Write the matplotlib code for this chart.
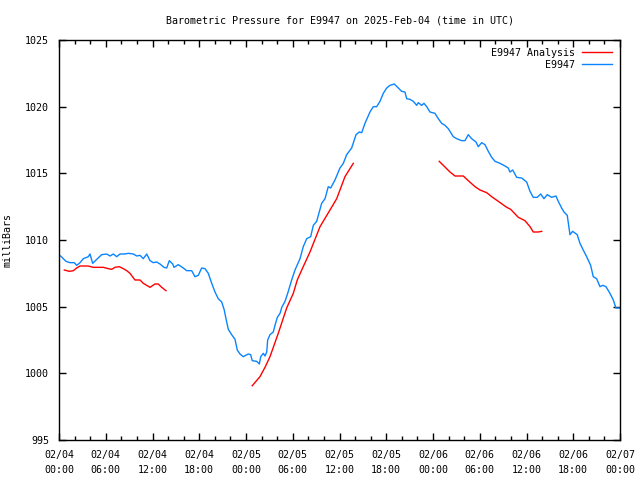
import matplotlib
matplotlib.use('Agg')
import matplotlib.pyplot as plt
import numpy as np

# hours since 2025-02-04 00:00 UTC, pressure in mb
obs_hours = [0.22, 0.55, 0.9, 1.41, 1.96, 2.27, 2.7, 3.12, 3.76, 3.98, 4.32, 4.84, 5.48, 6.12,
             6.55, 6.97, 7.4, 7.83, 8.47, 8.9, 9.54, 9.97, 10.4, 10.82, 11.26, 11.68, 12.1, 12.54,
             12.96, 13.48, 13.82, 14.16, 14.59, 14.76, 15.31, 15.95, 16.39, 17.03, 17.45, 17.88,
             18.31, 18.74, 19.16, 19.6, 20.02, 20.44, 20.88, 21.21, 21.43, 21.73, 22.16, 22.59,
             22.88, 23.23, 23.65, 24.29, 24.6, 24.8, 25.37, 25.71, 25.89, 26.22, 26.44, 26.66,
             26.78, 27.08, 27.5, 27.72, 28.02, 28.37, 28.59, 29.01, 29.35, 29.65, 29.86, 30.29,
             30.93, 31.35, 31.79, 32.3, 32.64, 33.07, 33.71, 34.14, 34.56, 34.87, 35.42, 36.06,
             36.49, 36.92, 37.56, 38.12, 38.54, 38.85, 39.27, 39.91, 40.34, 40.77, 41.2, 41.62,
             42.06, 42.48, 43.03, 43.54, 43.98, 44.4, 44.62, 45.05, 45.47, 45.91, 46.11, 46.55,
             46.84, 47.19, 47.61, 48.25, 48.68, 49.11, 49.54, 49.96, 50.6, 51.04, 51.68, 52.1,
             52.53, 52.96, 53.52, 53.81, 54.25, 54.67, 55.1, 55.53, 55.96, 56.6, 57.24, 57.66,
             57.88, 58.23, 58.74, 59.38, 60.02, 60.45, 60.87, 61.38, 61.82, 62.24, 62.67, 63.23,
             63.78, 64.08, 64.51, 64.81, 65.23, 65.58, 65.92, 66.51, 66.86, 67.28, 67.72, 68.23,
             68.57, 69.0, 69.43, 69.77, 70.2, 70.71, 71.14, 71.48, 71.91]
obs_mb = [1008.8, 1008.6, 1008.4, 1008.3, 1008.3, 1008.1, 1008.3, 1008.6, 1008.75, 1008.95,
          1008.25, 1008.55, 1008.9, 1008.95, 1008.8, 1008.95, 1008.75, 1008.95, 1008.95, 1009.0,
          1008.95, 1008.8, 1008.85, 1008.6, 1008.95, 1008.45, 1008.3, 1008.35, 1008.2, 1007.95,
          1007.9, 1008.45, 1008.2, 1007.95, 1008.15, 1007.9, 1007.7, 1007.7, 1007.25, 1007.35,
          1007.9, 1007.85, 1007.5, 1006.75, 1006.1, 1005.6, 1005.35, 1004.75, 1004.1, 1003.3,
          1002.9, 1002.55, 1001.75, 1001.45, 1001.25, 1001.45, 1001.4, 1000.95, 1000.9, 1000.7,
          1001.25, 1001.5, 1001.3, 1001.6, 1002.5, 1002.9, 1003.1, 1003.6, 1004.2, 1004.5,
          1004.95, 1005.4, 1006.0, 1006.6, 1007.0, 1007.75, 1008.6, 1009.5, 1010.1, 1010.25,
          1011.1, 1011.4, 1012.75, 1013.1, 1014.0, 1013.9, 1014.5, 1015.4, 1015.75, 1016.4,
          1016.9, 1017.9, 1018.1, 1018.05, 1018.75, 1019.6, 1020.0, 1020.0, 1020.4, 1021.0,
          1021.4, 1021.6, 1021.7, 1021.4, 1021.15, 1021.1, 1020.6, 1020.55, 1020.4, 1020.1,
          1020.3, 1020.1, 1020.25, 1020.0, 1019.6, 1019.5, 1019.1, 1018.75, 1018.6, 1018.35,
          1017.75, 1017.6, 1017.45, 1017.45, 1017.9, 1017.6, 1017.35, 1017.0, 1017.3, 1017.15,
          1016.65, 1016.2, 1015.9, 1015.75, 1015.55, 1015.4, 1015.1, 1015.25, 1014.7, 1014.65,
          1014.35, 1013.65, 1013.2, 1013.2, 1013.45, 1013.1, 1013.4, 1013.2, 1013.3, 1012.9,
          1012.4, 1012.1, 1011.85, 1010.4, 1010.65, 1010.4, 1009.75, 1009.25, 1008.75, 1008.1,
          1007.25, 1007.1, 1006.5, 1006.6, 1006.5, 1006.0, 1005.5, 1004.9, 1004.9]

# analysis comes in three separate pieces
ana1_hours = [0.68, 1.32, 1.84, 2.27, 2.7, 3.76, 4.4, 5.69, 6.33, 6.76, 7.19, 7.74, 8.25,
              8.69, 9.11, 9.75, 10.4, 10.82, 11.68, 12.32, 12.74, 13.18, 13.73]
ana1_mb = [1007.75, 1007.65, 1007.7, 1007.9, 1008.05, 1008.05, 1007.95, 1007.95, 1007.85,
           1007.8, 1007.95, 1008.0, 1007.85, 1007.7, 1007.5, 1007.0, 1007.0, 1006.75, 1006.45,
           1006.7, 1006.7, 1006.45, 1006.2]
ana2_hours = [24.8, 25.79, 26.44, 27.08, 28.14, 29.22, 30.07, 30.58, 31.15, 32.21, 33.5,
              34.78, 35.64, 36.06, 36.7, 37.77]
ana2_mb = [999.07, 999.75, 1000.45, 1001.25, 1003.0, 1004.9, 1006.0, 1007.0, 1007.75,
           1009.1, 1011.0, 1012.25, 1013.1, 1013.75, 1014.75, 1015.75]
ana3_hours = [48.8, 49.32, 50.18, 50.82, 51.89, 52.53, 53.39, 54.03, 54.89, 55.53, 56.38,
              57.46, 57.97, 58.95, 59.81, 60.45, 60.87, 61.51, 61.95]
ana3_mb = [1015.9, 1015.6, 1015.1, 1014.8, 1014.8, 1014.45, 1014.0, 1013.75, 1013.55,
           1013.25, 1012.9, 1012.45, 1012.3, 1011.7, 1011.45, 1011.0, 1010.6, 1010.6, 1010.65]

tick_hours = list(range(0, 73, 6))
tick_labels = ['02/04\n00:00', '02/04\n06:00', '02/04\n12:00', '02/04\n18:00',
               '02/05\n00:00', '02/05\n06:00', '02/05\n12:00', '02/05\n18:00',
               '02/06\n00:00', '02/06\n06:00', '02/06\n12:00', '02/06\n18:00',
               '02/07\n00:00']

plt.rcParams['font.family'] = 'DejaVu Sans Mono'
plt.rcParams['font.size'] = 7.2

red = '#ff0000'
blue = '#0a84ff'

fig = plt.figure(figsize=(6.4, 4.8), dpi=100)
ax = fig.add_axes([59 / 640, 40 / 480, 561 / 640, 400 / 480])

ax.plot(ana1_hours, ana1_mb, color=red, lw=1.0, label='E9947 Analysis')
ax.plot(ana2_hours, ana2_mb, color=red, lw=1.0)
ax.plot(ana3_hours, ana3_mb, color=red, lw=1.0)
ax.plot(obs_hours, obs_mb, color=blue, lw=1.0, label='E9947')

ax.set_xlim(0, 72)
ax.set_ylim(995, 1025)
ax.set_xticks(tick_hours)
ax.set_xticklabels(tick_labels, linespacing=1.6)
ax.set_xticks(np.arange(0, 73, 2), minor=True)
ax.set_yticks(np.arange(995, 1026, 5))
ax.tick_params(which='both', direction='in', top=True, right=True, width=1.0, colors='black')
ax.tick_params(which='major', length=5, pad=7)
ax.tick_params(which='minor', length=3)
for s in ax.spines.values():
    s.set_linewidth(1.0)

ax.set_title('Barometric Pressure for E9947 on 2025-Feb-04 (time in UTC)', fontsize=7.2, pad=12)
ax.set_ylabel('milliBars', labelpad=9)

ax.legend(loc='upper right', frameon=False, markerfirst=False, handlelength=3.0,
          handletextpad=0.7, labelspacing=0.2, borderaxespad=0.3, borderpad=0.5)

fig.savefig('out.png', dpi=100)
